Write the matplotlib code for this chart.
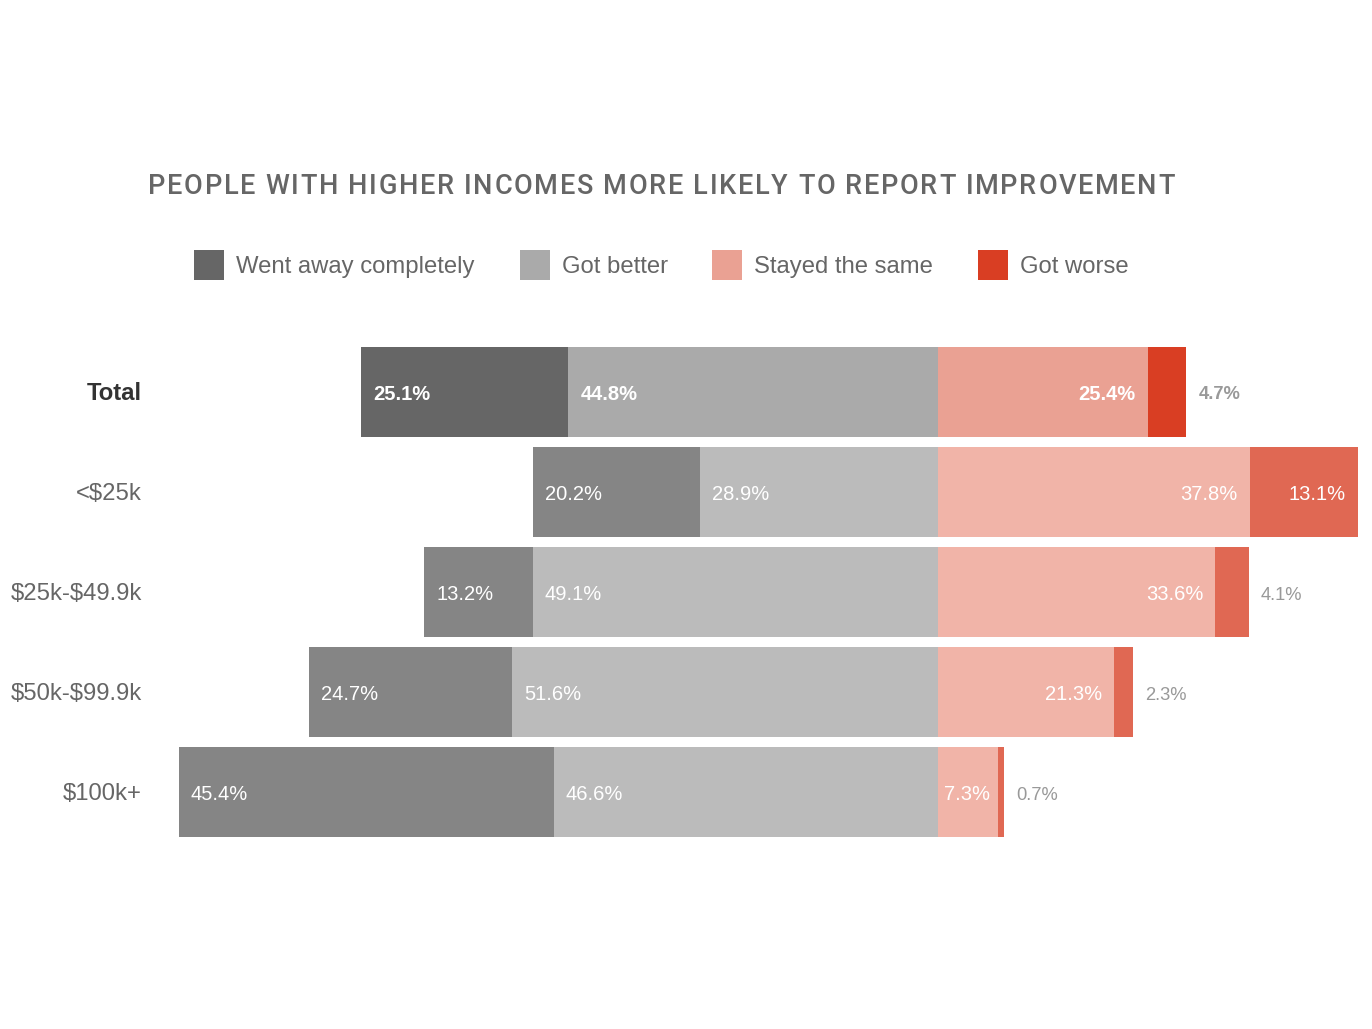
import matplotlib
matplotlib.use("Agg")
import matplotlib.pyplot as plt
from matplotlib.patches import Rectangle

plt.rcParams["text.parse_math"] = False

categories = ["Total", "<$25k", "$25k-$49.9k", "$50k-$99.9k", "$100k+"]
went_away = [25.1, 20.2, 13.2, 24.7, 45.4]
got_better = [44.8, 28.9, 49.1, 51.6, 46.6]
stayed_same = [25.4, 37.8, 33.6, 21.3, 7.3]
got_worse = [4.7, 13.1, 4.1, 2.3, 0.7]
series_names = ["Went away completely", "Got better", "Stayed the same", "Got worse"]
title = "PEOPLE WITH HIGHER INCOMES MORE LIKELY TO REPORT IMPROVEMENT"

W, H = 1372, 1029
fig = plt.figure(figsize=(W / 100, H / 100), dpi=100)
fig.patch.set_facecolor("white")

FONT = ["Liberation Sans", "DejaVu Sans"]

# axes placement in pixels
ax_l, ax_r, ax_t, ax_b = 179, 1358, 342, 842
ax = fig.add_axes([ax_l / W, 1 - ax_b / H, (ax_r - ax_l) / W, (ax_b - ax_t) / H])
ax.set_xlim(-92.0, 50.9)
ax.set_ylim(len(categories) - 0.5, -0.5)
ax.axis("off")

total_cols = ["#666666", "#aaaaaa", "#eaa193", "#d93e23"]
other_cols = ["#858585", "#bbbbbb", "#f1b4a8", "#e06853"]
bh = 0.9
pad = 12
dy = -3

for i, cat in enumerate(categories):
    cols = total_cols if i == 0 else other_cols
    bold = "bold" if i == 0 else "normal"
    wa, gb, ss, gw = went_away[i], got_better[i], stayed_same[i], got_worse[i]
    ax.barh(i, wa, left=-(wa + gb), height=bh, color=cols[0], lw=0)
    ax.barh(i, gb, left=-gb, height=bh, color=cols[1], lw=0)
    ax.barh(i, ss, left=0, height=bh, color=cols[2], lw=0)
    ax.barh(i, gw, left=ss, height=bh, color=cols[3], lw=0)
    kw = dict(textcoords="offset pixels", va="center", fontsize=14.5,
              family=FONT, fontweight=bold)
    ax.annotate(f"{wa}%", (-(wa + gb), i), xytext=(pad, dy), ha="left", color="white", **kw)
    ax.annotate(f"{gb}%", (-gb, i), xytext=(pad, dy), ha="left", color="white", **kw)
    ax.annotate(f"{ss}%", (ss, i), xytext=(-pad if ss > 10 else -8, dy), ha="right",
                color="white", **kw)
    if gw >= 10:
        ax.annotate(f"{gw}%", (ss + gw, i), xytext=(-pad, dy), ha="right", color="white", **kw)
    else:
        kw2 = dict(kw, fontsize=13.2)
        ax.annotate(f"{gw}%", (ss + gw, i), xytext=(pad, dy), ha="left", color="#999999", **kw2)
    # category label
    ax.annotate(cat, (0, i), xycoords=("figure pixels", "data"), xytext=(142, -2),
                textcoords=("figure pixels", "offset pixels"), ha="right", va="center",
                fontsize=17.2, family=FONT, fontweight=bold,
                color="#333333" if i == 0 else "#666666")

# title with letter spacing
renderer = fig.canvas.get_renderer()
tkw = dict(fontsize=19.5, color="#666666", family=["Roboto", "DejaVu Sans"],
           fontweight="medium", va="center", ha="left")
widths = []
for ch in title:
    t = fig.text(0, 0, ch if ch != " " else "\u00a0", **tkw)
    widths.append(t.get_window_extent(renderer).width)
    t.remove()
target_w = 1027
spacing = (target_w - sum(widths)) / (len(title) - 1)
x = 148
for ch, w in zip(title, widths):
    if ch != " ":
        fig.text(x / W, 1 - 186 / H, ch, **tkw)
    x += w + spacing

# legend
leg_x = [194, 520, 712, 978]
for x, name, c in zip(leg_x, series_names, total_cols):
    fig.patches.append(Rectangle((x / W, 1 - 280 / H), 30 / W, 30 / H,
                                 transform=fig.transFigure, color=c, lw=0))
    fig.text((x + 42) / W, 1 - 267 / H, name, ha="left", va="center",
             fontsize=17.2, color="#666666", family=FONT)

fig.savefig("out.png", dpi=100, facecolor="white")
